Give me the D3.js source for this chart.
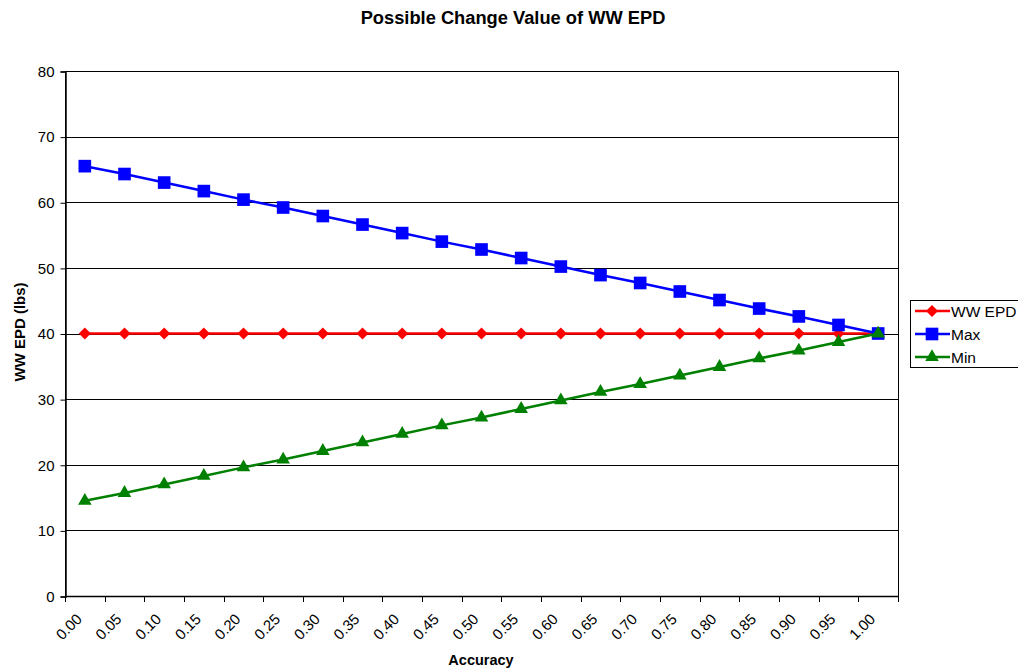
<!DOCTYPE html>
<html>
<head>
<meta charset="utf-8">
<script src="https://cdn.jsdelivr.net/npm/d3@7"></script>
<style>
  body { margin: 0; background: #fff; }
  svg { font-family: "Liberation Sans", Arial, sans-serif; }
</style>
</head>
<body>
<svg width="1018" height="668"></svg>
<script>
let categories = ["0.00","0.05","0.10","0.15","0.20","0.25","0.30","0.35","0.40","0.45","0.50",
                  "0.55","0.60","0.65","0.70","0.75","0.80","0.85","0.90","0.95","1.00"];
let wwEpd = [40,40,40,40,40,40,40,40,40,40,40,40,40,40,40,40,40,40,40,40,40];
let maxVals = [65.5,64.3,63.0,61.7,60.4,59.2,57.9,56.6,55.3,54.0,52.8,51.5,50.2,48.9,47.7,46.4,45.1,43.8,42.6,41.3,40.0];
let minVals = [14.5,15.7,17.0,18.3,19.6,20.8,22.1,23.4,24.7,26.0,27.2,28.5,29.8,31.1,32.3,33.6,34.9,36.2,37.4,38.7,40.0];
let yTicks = [0,10,20,30,40,50,60,70,80];

let series = [
  {name: "WW EPD", values: wwEpd, color: "#ff0000", shape: d3.symbolSquare, size: 72, rot: 45},
  {name: "Max", values: maxVals, color: "#0000ff", shape: d3.symbolSquare, size: 160, rot: 0},
  {name: "Min", values: minVals, color: "#008000", shape: d3.symbolTriangle, size: 80, rot: 0}
];

let svg = d3.select("svg");
let pLeft = 65, pRight = 898, pTop = 71, pBottom = 596;

let x = d3.scaleBand().domain(categories).range([pLeft, pRight]);
let y = d3.scaleLinear().domain([0, 80]).range([pBottom, pTop]);

// title
svg.append("text").attr("x", 513).attr("y", 24).attr("text-anchor", "middle")
  .style("font-size", "18.3px").style("font-weight", "bold").text("Possible Change Value of WW EPD");

// gridlines
svg.append("g").selectAll("line").data(yTicks.filter(d => d > 0)).enter().append("line")
  .attr("x1", pLeft).attr("x2", pRight)
  .attr("y1", d => Math.round(y(d)) + 0.5).attr("y2", d => Math.round(y(d)) + 0.5)
  .attr("stroke", "#000").attr("stroke-width", 1);

// plot border
svg.append("rect").attr("x", pLeft + 0.5).attr("y", pTop + 0.5)
  .attr("width", pRight - pLeft).attr("height", pBottom - pTop)
  .attr("fill", "none").attr("stroke", "#000").attr("stroke-width", 1);

// y axis
let yAxis = svg.append("g").attr("transform", `translate(${pLeft + 0.5},0.5)`)
  .call(d3.axisLeft(y).tickValues(yTicks).tickSize(5).tickPadding(6));
yAxis.select(".domain").attr("stroke-width", 1.5);
yAxis.selectAll("text").style("font-size", "15px").attr("fill", "#000")
  .attr("font-family", "Liberation Sans, Arial, sans-serif");

// x axis: ticks at band boundaries
let xg = svg.append("g");
xg.append("line").attr("x1", pLeft).attr("x2", pRight).attr("y1", pBottom + 0.5).attr("y2", pBottom + 0.5)
  .attr("stroke", "#000").attr("stroke-width", 1.5);
let bounds = categories.map(c => x(c)).concat([pRight]);
xg.selectAll("line.tick").data(bounds).enter().append("line").attr("class", "tick")
  .attr("x1", d => Math.round(d) + 0.5).attr("x2", d => Math.round(d) + 0.5)
  .attr("y1", pBottom).attr("y2", pBottom + 6).attr("stroke", "#000");
xg.selectAll("text").data(categories).enter().append("text")
  .attr("transform", d => `translate(${x(d) + x.bandwidth() / 2 - 2},${pBottom + 24}) rotate(-45)`)
  .attr("text-anchor", "end").style("font-size", "15px").text(d => d);

// axis titles
svg.append("text").attr("x", 481).attr("y", 665).attr("text-anchor", "middle")
  .style("font-size", "14.5px").style("font-weight", "bold").text("Accuracy");
svg.append("text").attr("transform", "translate(25,332) rotate(-90)").attr("text-anchor", "middle")
  .style("font-size", "15px").style("font-weight", "bold").text("WW EPD (lbs)");

// series
let line = d3.line().x((d, i) => x(categories[i]) + x.bandwidth() / 2).y(d => y(d));
series.forEach(s => {
  let g = svg.append("g");
  g.append("path").datum(s.values).attr("d", line)
    .attr("fill", "none").attr("stroke", s.color).attr("stroke-width", 2.5);
  g.selectAll("path.m").data(s.values).enter().append("path").attr("class", "m")
    .attr("d", d3.symbol().type(s.shape).size(s.size))
    .attr("transform", (d, i) => `translate(${x(categories[i]) + x.bandwidth() / 2},${y(d)}) rotate(${s.rot})`)
    .attr("fill", s.color);
});

// legend
let lg = svg.append("g");
lg.append("rect").attr("x", 910.5).attr("y", 300.5).attr("width", 120).attr("height", 67)
  .attr("fill", "#fff").attr("stroke", "#000");
series.forEach((s, i) => {
  let ly = 311 + i * 23;
  lg.append("line").attr("x1", 915).attr("x2", 950).attr("y1", ly).attr("y2", ly)
    .attr("stroke", s.color).attr("stroke-width", 2.5);
  lg.append("path").attr("d", d3.symbol().type(s.shape).size(s.size))
    .attr("transform", `translate(932,${ly}) rotate(${s.rot})`).attr("fill", s.color);
  lg.append("text").attr("x", 951).attr("y", ly + 6).style("font-size", "15.5px").text(s.name);
});
</script>
</body>
</html>
